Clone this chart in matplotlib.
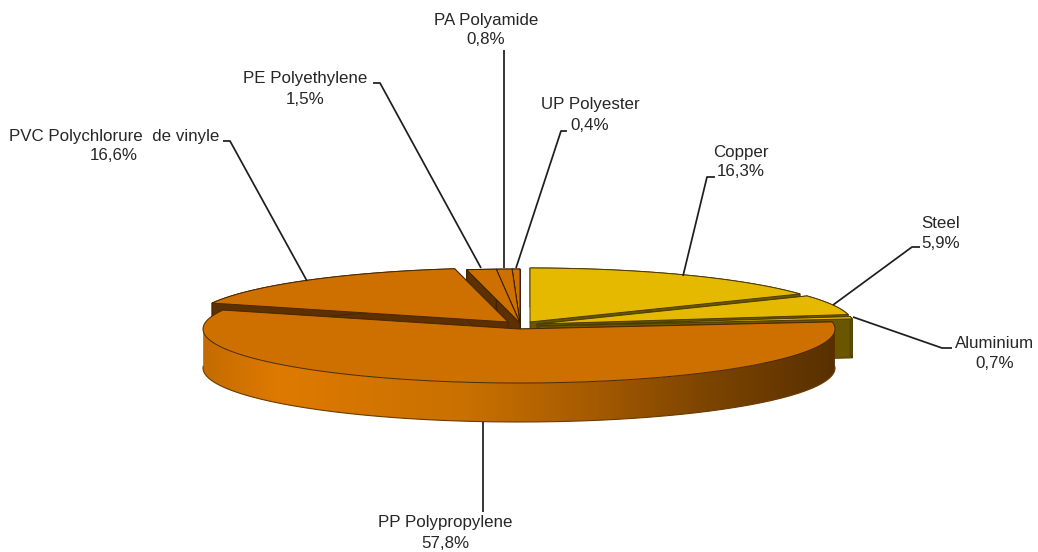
import numpy as np
import matplotlib
matplotlib.use('Agg')
from matplotlib import pyplot as plt
from matplotlib.colors import LinearSegmentedColormap
from matplotlib.patches import Polygon

plt.rcParams['font.family'] = ['Liberation Sans', 'DejaVu Sans']

# slices, clockwise from 12 o'clock
categories = ['Copper', 'Steel', 'Aluminium', 'PP Polypropylene', 'PVC Polychlorure  de vinyle',
              'PE Polyethylene', 'PA Polyamide', 'UP Polyester']
values = [16.3, 5.9, 0.7, 57.8, 16.6, 1.5, 0.8, 0.4]

top_colors = ['#E5B900', '#E5B900', '#E5B900', '#CE7000', '#CE7000', '#CE7000', '#CE7000', '#CE7000']
wall_colors = ['#6B5600', '#6B5600', '#6B5600', '#5C3000', '#5C3000', '#5C3000', '#5C3000', '#5C3000']
edge_colors = ['#4A3C00', '#4A3C00', '#4A3C00', '#4A2800', '#4A2800', '#3A2000', '#3A2000', '#3A2000']

# exploded centre of each slice, in pixels
centre_x = [530, 537, 539, 519, 508, 520, 520, 520]
centre_y = [322, 324, 326, 329, 322, 323, 323, 323]

# label centre, line 1 and line 2 y
label_x = [741, 941, 995, 445, 114, 305, 486, 590]
label_y1 = [152, 223, 343, 523, 137, 79, 21, 105]
label_y2 = [172, 243, 363, 543, 156, 99, 40, 125]

# leader lines
leader_x = [[715, 707, 683], [920, 912, 833], [952, 942, 853], [483, 483], [223, 230, 307],
            [373, 380, 481], [504, 504], [567, 561, 516]]
leader_y = [[177, 177, 276], [247, 247, 305], [348, 348, 317], [422, 512], [141, 141, 281],
            [83, 83, 268], [50, 268], [131, 131, 268]]

RX = 316
RY = 54
DEPTH = 39

fig = plt.figure(figsize=(10.38, 5.52), dpi=100)
ax = fig.add_axes([0, 0, 1, 1])
ax.axis('off')

ends = np.cumsum(values) / np.sum(values) * 360
starts = ends - np.array(values) / np.sum(values) * 360


def arc(i, n=200):
    t = np.radians(np.linspace(starts[i], ends[i], n))
    return centre_x[i] + RX * np.sin(t), centre_y[i] - RY * np.cos(t)


def draw_slice(i):
    xs, ys = arc(i)
    cx, cy = centre_x[i], centre_y[i]
    walls = [([cx, xs[0], xs[0], cx], [cy, ys[0], ys[0] + DEPTH, cy + DEPTH]),
             ([cx, xs[-1], xs[-1], cx], [cy, ys[-1], ys[-1] + DEPTH, cy + DEPTH])]
    for wx, wy in walls:
        ax.add_patch(Polygon(np.column_stack([wx, wy]), fc=wall_colors[i], ec=edge_colors[i], lw=0.7))
    outer = np.column_stack([np.r_[xs, xs[::-1]], np.r_[ys, ys[::-1] + DEPTH]])
    if categories[i].startswith('PP'):
        # the big slice has the shaded rim, only the part facing us
        front = ys >= cy - 2
        rim = np.column_stack([np.r_[xs[front], xs[front][::-1]],
                               np.r_[ys[front], ys[front][::-1] + DEPTH]])
        patch = Polygon(rim, fc='none', ec='none')
        ax.add_patch(patch)
        cmap = LinearSegmentedColormap.from_list('rim', [(0, '#C46C00'), (0.12, '#DE7A00'), (0.42, '#C87000'),
                                                         (0.62, '#A55A00'), (0.8, '#7C4400'), (1, '#583000')])
        im = ax.imshow(np.linspace(0, 1, 256).reshape(1, -1), cmap=cmap, aspect='auto',
                       extent=[xs.min(), xs.max(), 552, 0], zorder=1)
        im.set_clip_path(patch)
        ax.plot(xs[front], ys[front] + DEPTH, color='#6A3A00', lw=0.8, zorder=1.1)
        zo = 2
    else:
        ax.add_patch(Polygon(outer, fc=wall_colors[i], ec=edge_colors[i], lw=0.7))
        zo = 1
    ax.add_patch(Polygon(np.column_stack([np.r_[cx, xs], np.r_[cy, ys]]), fc=top_colors[i],
                         ec=edge_colors[i], lw=0.7, zorder=zo))


# painter's order, back to front
for i in [0, 1, 2, 7, 6, 5, 4]:
    draw_slice(i)
draw_slice(3)

for i, name in enumerate(categories):
    ax.plot(leader_x[i], leader_y[i], color='#1E1E1E', lw=1.25, zorder=5, solid_capstyle='butt')
    pct = '{:.1f}%'.format(values[i]).replace('.', ',')
    ax.text(label_x[i], label_y1[i], name, ha='center', va='center', fontsize=12.2, color='#262626', zorder=6)
    ax.text(label_x[i], label_y2[i], pct, ha='center', va='center', fontsize=12.2, color='#262626', zorder=6)

ax.set_xlim(0, 1038)
ax.set_ylim(552, 0)
fig.savefig('out.png', dpi=100)
